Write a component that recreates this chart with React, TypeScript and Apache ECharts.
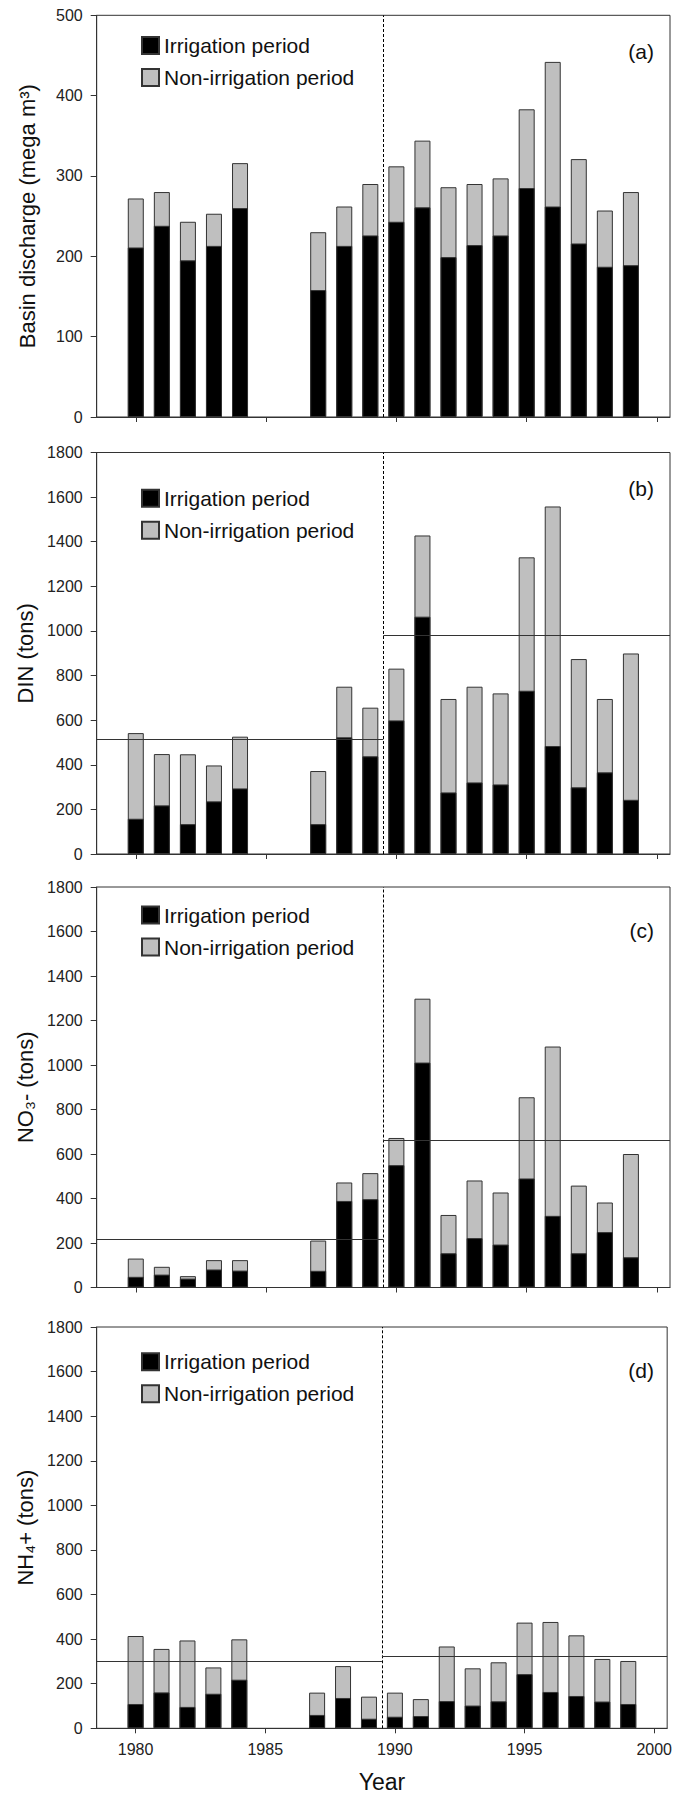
import React, { useEffect, useRef } from "react";
import * as echarts from "echarts";

// ---- data ----
const years = [1980, 1981, 1982, 1983, 1984, 1987, 1988, 1989, 1990, 1991, 1992, 1993, 1994, 1995, 1996, 1997, 1998, 1999];

// irrigation-period part and the annual total (irrigation + non-irrigation)
const dischargeIrrigation = [211, 238, 195, 213, 260, 158, 213, 226, 243, 261, 199, 214, 226, 285, 262, 216, 187, 189];
const dischargeTotal = [272, 280, 243, 253, 316, 230, 262, 290, 312, 344, 286, 290, 297, 383, 442, 321, 257, 280];

const dinIrrigation = [158, 218, 134, 236, 294, 134, 523, 438, 599, 1064, 276, 321, 312, 732, 484, 299, 366, 243];
const dinTotal = [542, 448, 447, 397, 526, 372, 750, 656, 831, 1428, 695, 750, 720, 1330, 1558, 874, 695, 899];

const no3Irrigation = [48, 58, 40, 81, 76, 75, 389, 397, 550, 1011, 154, 222, 193, 490, 322, 154, 249, 136];
const no3Total = [130, 93, 51, 123, 123, 211, 472, 514, 672, 1298, 326, 481, 427, 855, 1083, 458, 382, 600];

const nh4Irrigation = [109, 161, 96, 155, 218, 60, 136, 43, 52, 55, 122, 102, 121, 243, 163, 145, 120, 109];
const nh4Total = [414, 356, 394, 273, 399, 160, 279, 142, 160, 131, 367, 269, 296, 474, 477, 417, 311, 302];

const irrigationSets = [dischargeIrrigation, dinIrrigation, no3Irrigation, nh4Irrigation];
const totalSets = [dischargeTotal, dinTotal, no3Total, nh4Total];

const seriesNames = ["Irrigation period", "Non-irrigation period"];
const panelLabels = ["(a)", "(b)", "(c)", "(d)"];
const yAxisNames = ["Basin discharge (mega m³)", "DIN (tons)", "NO₃- (tons)", "NH₄+ (tons)"];
const yMax = [500, 1800, 1800, 1800];
const yInterval = [100, 200, 200, 200];
const xTickValues = [1980, 1985, 1990, 1995, 2000];
const xMin = 1978.5;
const xMax = 2000.5;
const divideYear = 1989.5;
const meanBefore = [null, 515, 216, 302];
const meanAfter = [null, 980, 660, 324];

// ---- layout ----
const gridTops = [15.3, 452.5, 887, 1327];
const gridHeights = [401.7, 401.5, 400.5, 401.3];
const legendTops = [34.5, 487.3, 904, 1350.7];
const labelYs = [51.7, 488, 930, 1370];
const FONT = "'Liberation Sans', Arial, Helvetica, sans-serif";
const AXIS_COLOR = "#333";

export default function App() {
  const ref = useRef<HTMLDivElement>(null);

  useEffect(() => {
    if (!ref.current) return;
    const chart = echarts.init(ref.current, undefined, { renderer: "svg" });

    const grids: any[] = [];
    const xAxes: any[] = [];
    const yAxes: any[] = [];
    const series: any[] = [];
    const legends: any[] = [];
    const graphics: any[] = [];

    for (let i = 0; i < 4; i++) {
      grids.push({
        left: 96.7,
        right: 5,
        top: gridTops[i],
        height: gridHeights[i],
        show: true,
        borderColor: AXIS_COLOR,
        borderWidth: 1,
        backgroundColor: "transparent",
      });
      const last = i === 3;
      xAxes.push({
        type: "value",
        gridIndex: i,
        min: xMin,
        max: xMax,
        splitLine: { show: false },
        axisLine: { show: true, onZero: false, lineStyle: { color: AXIS_COLOR, width: 1 } },
        axisTick: { show: true, length: 5, inside: false, customValues: xTickValues, lineStyle: { color: AXIS_COLOR } },
        axisLabel: {
          show: last,
          customValues: xTickValues,
          formatter: (v: number) => String(v),
          fontSize: 16,
          color: "#222",
          margin: 13,
          fontFamily: FONT,
        },
        name: last ? "Year" : "",
        nameLocation: "middle",
        nameGap: 42,
        nameTextStyle: { fontSize: 23, color: "#111", fontFamily: FONT },
      });
      yAxes.push({
        type: "value",
        gridIndex: i,
        min: 0,
        max: yMax[i],
        interval: yInterval[i],
        splitLine: { show: false },
        axisLine: { show: true, lineStyle: { color: AXIS_COLOR, width: 1 } },
        axisTick: { show: true, length: 6, lineStyle: { color: AXIS_COLOR } },
        axisLabel: {
          fontSize: 16,
          color: "#222",
          margin: 14,
          fontFamily: FONT,
          formatter: (v: number) => String(v),
        },
        name: yAxisNames[i],
        nameLocation: "middle",
        nameRotate: 90,
        nameGap: 58,
        nameTextStyle: { fontSize: 22, color: "#111", fontFamily: FONT },
      });

      const markData: any[] = [{ xAxis: divideYear, lineStyle: { type: [3, 2], color: "#000", width: 1 } }];
      if (meanBefore[i] != null) {
        markData.push([
          { coord: [xMin, meanBefore[i]], lineStyle: { type: "solid", color: AXIS_COLOR, width: 1 } },
          { coord: [divideYear, meanBefore[i]] },
        ]);
      }
      if (meanAfter[i] != null) {
        markData.push([
          { coord: [divideYear, meanAfter[i]], lineStyle: { type: "solid", color: AXIS_COLOR, width: 1 } },
          { coord: [xMax, meanAfter[i]] },
        ]);
      }

      // full-height bar (grey = non-irrigation part visible above the black part)
      series.push({
        name: seriesNames[1],
        type: "bar",
        xAxisIndex: i,
        yAxisIndex: i,
        barWidth: 16,
        barGap: "-100%",
        z: 2,
        data: years.map((y, k) => [y, totalSets[i][k]]),
        itemStyle: { color: "#bfbfbf", borderColor: "#333", borderWidth: 1 },
        markLine: {
          silent: true,
          symbol: ["none", "none"],
          label: { show: false },
          data: markData,
          z: 5,
        },
      });
      series.push({
        name: seriesNames[0],
        type: "bar",
        xAxisIndex: i,
        yAxisIndex: i,
        barWidth: 16,
        barGap: "-100%",
        z: 3,
        data: years.map((y, k) => [y, irrigationSets[i][k]]),
        itemStyle: { color: "#000", borderColor: "#333", borderWidth: 1 },
      });

      legends.push({
        data: seriesNames,
        orient: "vertical",
        left: 141,
        top: legendTops[i],
        padding: 0,
        itemWidth: 17,
        itemHeight: 17,
        itemGap: 10,
        icon: "rect",
        selectedMode: false,
        textStyle: { fontSize: 21, lineHeight: 22, color: "#111", fontFamily: FONT },
      });

      graphics.push({
        type: "text",
        x: 654,
        y: labelYs[i],
        style: {
          text: panelLabels[i],
          fontSize: 21,
          fill: "#111",
          fontFamily: FONT,
          align: "right",
          verticalAlign: "middle",
        },
      });
    }

    chart.setOption({
      animation: false,
      backgroundColor: "#fff",
      textStyle: { fontFamily: FONT },
      grid: grids,
      xAxis: xAxes,
      yAxis: yAxes,
      series,
      legend: legends,
      graphic: graphics,
    });

    return () => chart.dispose();
  }, []);

  return (
    <div
      ref={ref}
      style={{ position: "absolute", left: 0, top: 0, width: 675, height: 1798, background: "#fff" }}
    />
  );
}
